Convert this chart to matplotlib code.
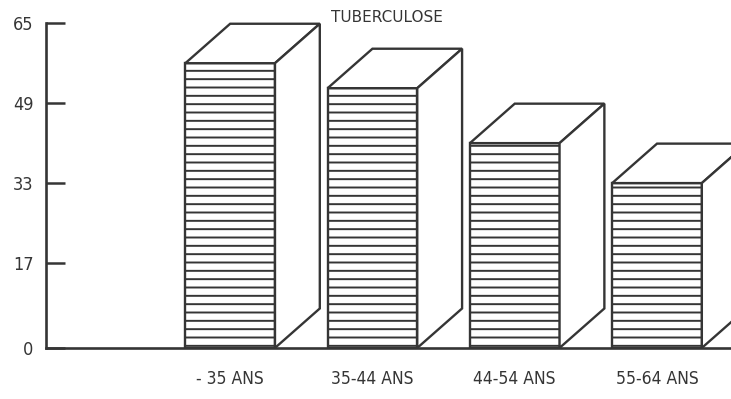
import numpy as np
import matplotlib.pyplot as plt
from matplotlib.patches import Polygon

# tuberculosis cases by age group
groups = ["- 35 ANS", "35-44 ANS", "44-54 ANS", "55-64 ANS"]
cases = [57, 52, 41, 33]
yticks = [0, 17, 33, 49, 65]

INK = "#353535"
NARROW = ["Liberation Sans Narrow", "DejaVu Sans"]
plt.rcParams["hatch.linewidth"] = 1.4
plt.rcParams["hatch.color"] = INK


def bar3d(ax, x, h, width=0.63, dx=0.315, dy=7.9):
    """Draw one box-shaped bar: hatched front, plain top and side."""
    x0 = x - width / 2
    x1 = x + width / 2
    ax.bar(x, h, width=width, facecolor="white", edgecolor=INK,
           hatch="--", linewidth=1.7, zorder=3)
    top = [(x0, h), (x1, h), (x1 + dx, h + dy), (x0 + dx, h + dy)]
    side = [(x1, 0), (x1 + dx, dy), (x1 + dx, h + dy), (x1, h)]
    for pts in (top, side):
        ax.add_patch(Polygon(pts, closed=True, facecolor="white",
                             edgecolor=INK, linewidth=1.7, zorder=3,
                             joinstyle="miter"))


fig = plt.figure(figsize=(7.31, 3.99), dpi=100)
ax = fig.add_axes([0.063, 0.128, 0.937, 0.82])

xs = np.arange(len(groups))
for x, h in zip(xs, cases):
    bar3d(ax, x, h)

ax.set_xlim(-1.294, 3.52)
ax.set_ylim(0, 65.5)

for side in ("top", "right"):
    ax.spines[side].set_visible(False)
ax.spines["left"].set_bounds(0, 65)
for side in ("left", "bottom"):
    ax.spines[side].set_color(INK)
    ax.spines[side].set_linewidth(1.9)

ax.set_yticks(yticks)
ax.set_yticklabels([str(t) for t in yticks])
ax.tick_params(axis="y", direction="in", length=14, width=1.8,
               color=INK, labelcolor=INK, labelsize=13, pad=9)
ax.set_xticks(xs)
ax.set_xticklabels(groups)
ax.tick_params(axis="x", length=0, labelcolor=INK, labelsize=12.5, pad=16)
for lbl in ax.get_xticklabels() + ax.get_yticklabels():
    lbl.set_fontfamily(NARROW)
    lbl.set_fontstretch("condensed")

fig.text(0.53, 0.955, "TUBERCULOSE", ha="center", va="center",
         fontsize=11, color=INK, family=NARROW)

fig.savefig("out.png", dpi=100)
